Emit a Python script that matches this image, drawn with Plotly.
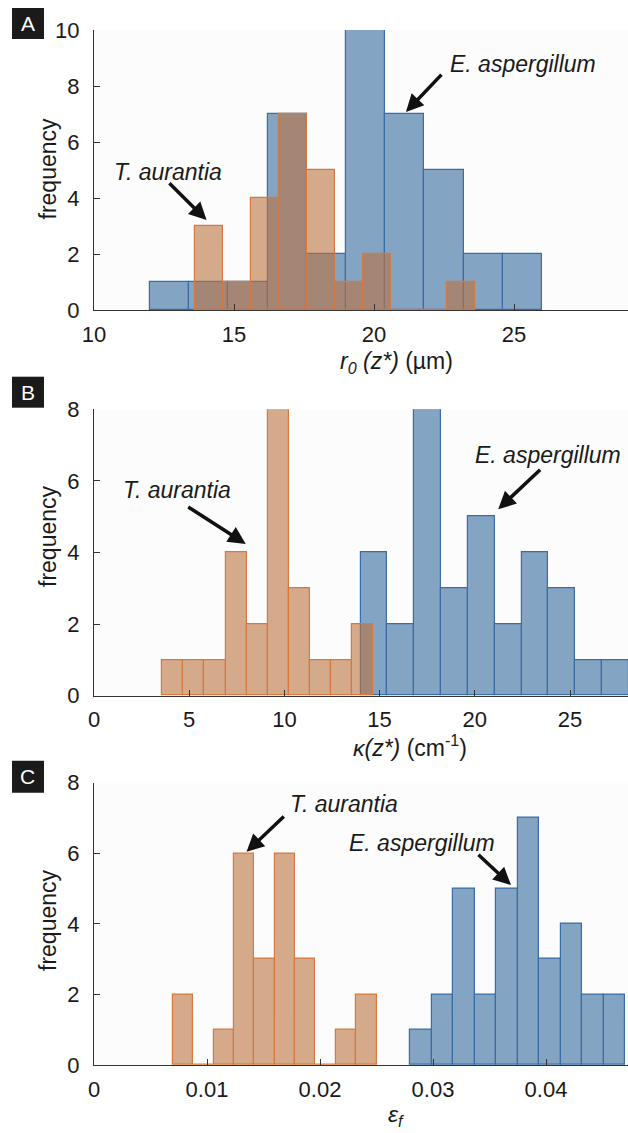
import plotly.graph_objects as go

W, H = 628, 1133

# ---------------- data ----------------
# Panel A: r0(z*) (um)
a_blue_edges = [12.0, 13.4, 14.8, 16.2, 17.6, 19.0, 20.4, 21.8, 23.2, 24.6, 26.0]
a_blue_counts = [1, 1, 1, 7, 2, 10, 7, 5, 2, 2]
a_orange_edges = [13.6, 14.6, 15.6, 16.6, 17.6, 18.6, 19.6, 20.6, 21.6, 22.6, 23.6]
a_orange_counts = [3, 1, 4, 7, 5, 1, 2, 0, 0, 1]
a_xticks = [10, 15, 20, 25]
a_yticks = [0, 2, 4, 6, 8, 10]

# Panel B: kappa(z*) (cm^-1)
b_orange_edges = [3.59, 4.70, 5.80, 6.91, 8.01, 9.12, 10.22, 11.33, 12.43, 13.54, 14.64]
b_orange_counts = [1, 1, 1, 4, 2, 8, 3, 1, 1, 2]
b_blue_edges = [14.0, 15.41, 16.82, 18.23, 19.64, 21.05, 22.46, 23.87, 25.28, 26.69, 28.10]
b_blue_counts = [4, 2, 8, 3, 5, 2, 4, 3, 1, 1]
b_xticks = [0, 5, 10, 15, 20, 25]
b_yticks = [0, 2, 4, 6, 8]

# Panel C: epsilon_f
c_orange_edges = [0.0070, 0.0088, 0.0106, 0.0124, 0.0142, 0.0160, 0.0178, 0.0196, 0.0214, 0.0232, 0.0250]
c_orange_counts = [2, 0, 1, 6, 3, 6, 3, 0, 1, 2]
c_blue_edges = [0.0280, 0.0299, 0.0318, 0.0337, 0.0356, 0.0375, 0.0394, 0.0413, 0.0432, 0.0451, 0.0470]
c_blue_counts = [1, 2, 5, 2, 5, 7, 3, 4, 2, 2]
c_xticks = [0, 0.01, 0.02, 0.03, 0.04]
c_xticklabels = ["0", "0.01", "0.02", "0.03", "0.04"]
c_yticks = [0, 2, 4, 6, 8]

species = ["E. aspergillum", "T. aurantia"]

# ---------------- style ----------------
FONT = "Liberation Sans, Arial, Helvetica, sans-serif"
BLUE_FILL = "rgba(52,105,157,0.6)"
BLUE_EDGE = "#3a6ca6"
ORANGE_FILL = "rgba(187,115,63,0.6)"
ORANGE_EDGE = "#d8783c"
AXIS_COLOR = "#333333"
TEXT_COLOR = "#1a1a1a"


def px(x):
    return x / W


def py(y):
    return 1 - y / H


def hist_trace(edges, counts, fill, edge, xa, ya, name):
    centers = [(edges[i] + edges[i + 1]) / 2 for i in range(len(counts))]
    widths = [edges[i + 1] - edges[i] for i in range(len(counts))]
    return go.Bar(
        x=centers, y=counts, width=widths, name=name,
        marker=dict(color=fill, line=dict(color=edge, width=1.2)),
        xaxis=xa, yaxis=ya, showlegend=False,
    )


fig = go.Figure()
fig.add_trace(hist_trace(a_blue_edges, a_blue_counts, BLUE_FILL, BLUE_EDGE, "x", "y", species[0]))
fig.add_trace(hist_trace(a_orange_edges, a_orange_counts, ORANGE_FILL, ORANGE_EDGE, "x", "y", species[1]))
fig.add_trace(hist_trace(b_blue_edges, b_blue_counts, BLUE_FILL, BLUE_EDGE, "x2", "y2", species[0]))
fig.add_trace(hist_trace(b_orange_edges, b_orange_counts, ORANGE_FILL, ORANGE_EDGE, "x2", "y2", species[1]))
fig.add_trace(hist_trace(c_blue_edges, c_blue_counts, BLUE_FILL, BLUE_EDGE, "x3", "y3", species[0]))
fig.add_trace(hist_trace(c_orange_edges, c_orange_counts, ORANGE_FILL, ORANGE_EDGE, "x3", "y3", species[1]))

x_left = 94
xdom = [px(x_left), 1.0]


def xaxis_cfg(rng, tickvals, ticktext, anchor):
    return dict(
        domain=xdom, range=rng, anchor=anchor, automargin=False,
        tickmode="array", tickvals=tickvals, ticktext=ticktext,
        ticks="inside", ticklen=6, tickwidth=1, tickcolor=AXIS_COLOR,
        showline=True, linecolor=AXIS_COLOR, linewidth=1.2,
        showgrid=False, zeroline=False, mirror=False,
        tickfont=dict(family=FONT, size=22, color=TEXT_COLOR),
        ticklabelstandoff=4,
    )


def yaxis_cfg(dom, rng, tickvals, anchor):
    return dict(
        domain=dom, range=rng, anchor=anchor, automargin=False,
        tickmode="array", tickvals=tickvals, ticktext=[str(v) for v in tickvals],
        ticks="inside", ticklen=6, tickwidth=1, tickcolor=AXIS_COLOR,
        showline=True, linecolor=AXIS_COLOR, linewidth=1.2,
        showgrid=False, zeroline=False, mirror=False,
        tickfont=dict(family=FONT, size=22, color=TEXT_COLOR),
        ticklabelstandoff=9,
    )


plot_w = W - x_left
fig.update_layout(
    width=W, height=H, autosize=False,
    margin=dict(l=0, r=0, t=0, b=0, pad=0, autoexpand=False),
    paper_bgcolor="white", plot_bgcolor="#fcfcfc",
    barmode="overlay", bargap=0,
    font=dict(family=FONT, color=TEXT_COLOR),
    xaxis=xaxis_cfg([10, 10 + plot_w / 28.0], a_xticks, [str(v) for v in a_xticks], "y"),
    yaxis=yaxis_cfg([py(310), py(30)], [0, 10], a_yticks, "x"),
    xaxis2=xaxis_cfg([0, plot_w / 19.04], b_xticks, [str(v) for v in b_xticks], "y2"),
    yaxis2=yaxis_cfg([py(695.7), py(409.3)], [0, 8], b_yticks, "x2"),
    xaxis3=xaxis_cfg([0, plot_w / 11300.0], c_xticks, c_xticklabels, "y3"),
    yaxis3=yaxis_cfg([py(1065), py(782.7)], [0, 8], c_yticks, "x3"),
)

ann = []
shapes = []

# panel letters
for letter, y0, y1 in [("A", 8, 39), ("B", 376.7, 407.7), ("C", 760.7, 792.7)]:
    shapes.append(dict(type="rect", xref="paper", yref="paper",
                       x0=px(12), x1=px(44), y0=py(y1), y1=py(y0),
                       fillcolor="#1a1a1a", line=dict(width=0)))
    ann.append(dict(text=letter, xref="paper", yref="paper",
                    x=px(28), y=py((y0 + y1) / 2), xanchor="center", yanchor="middle",
                    showarrow=False, font=dict(family=FONT, size=21, color="white")))

# y titles
for yc in [168.5, 536, 920]:
    ann.append(dict(text="frequency", xref="paper", yref="paper",
                    x=px(48), y=py(yc), xanchor="center", yanchor="middle",
                    textangle=-90, showarrow=False,
                    font=dict(family=FONT, size=23, color=TEXT_COLOR)))

# x titles
ann.append(dict(text="<i>r</i><sub><i>0</i></sub><i> (z*)</i> (µm)", xref="paper", yref="paper",
                x=px(396), y=py(362), xanchor="center", yanchor="middle", showarrow=False,
                font=dict(family=FONT, size=23, color=TEXT_COLOR)))
ann.append(dict(text="<i>κ(z*)</i> (cm<sup>-1</sup>)", xref="paper", yref="paper",
                x=px(409.5), y=py(746), xanchor="center", yanchor="middle", showarrow=False,
                font=dict(family=FONT, size=23, color=TEXT_COLOR)))
ann.append(dict(text="<i>ε</i><sub><i>f</i></sub>", xref="paper", yref="paper",
                x=px(395.5), y=py(1115), xanchor="center", yanchor="middle", showarrow=False,
                font=dict(family=FONT, size=23, color=TEXT_COLOR)))

# species labels (text) and arrows: (label, text_x, text_y, tail_x, tail_y, head_x, head_y, xref, yref)
labels = [
    (species[0], 25.32, 8.79, 22.46, 8.46, 21.14, 7.07, "x", "y"),
    (species[1], 12.64, 4.93, 12.64, 4.58, 14.02, 3.21, "x", "y"),
    (species[1], 4.36, 5.75, 4.87, 5.30, 7.97, 4.24, "x2", "y2"),
    (species[0], 23.82, 6.72, 23.51, 6.35, 21.23, 5.21, "x2", "y2"),
    (species[1], 0.02215, 7.41, 0.01693, 7.08, 0.01350, 6.04, "x3", "y3"),
    (species[0], 0.02905, 6.28, 0.03389, 6.00, 0.03690, 5.10, "x3", "y3"),
]
for name, tx, ty, ax_, ay_, hx, hy, xr, yr in labels:
    ann.append(dict(text=f"<i>{name}</i>", xref=xr, yref=yr, x=tx, y=ty,
                    xanchor="center", yanchor="middle", showarrow=False,
                    font=dict(family=FONT, size=23, color=TEXT_COLOR)))
    ann.append(dict(text="", xref=xr, yref=yr, x=hx, y=hy,
                    axref=xr, ayref=yr, ax=ax_, ay=ay_,
                    showarrow=True, arrowhead=2, arrowsize=1, arrowwidth=3.5,
                    arrowcolor="#111111", standoff=0, startstandoff=0))

fig.update_layout(annotations=ann, shapes=shapes)

fig.write_html("out.html")
